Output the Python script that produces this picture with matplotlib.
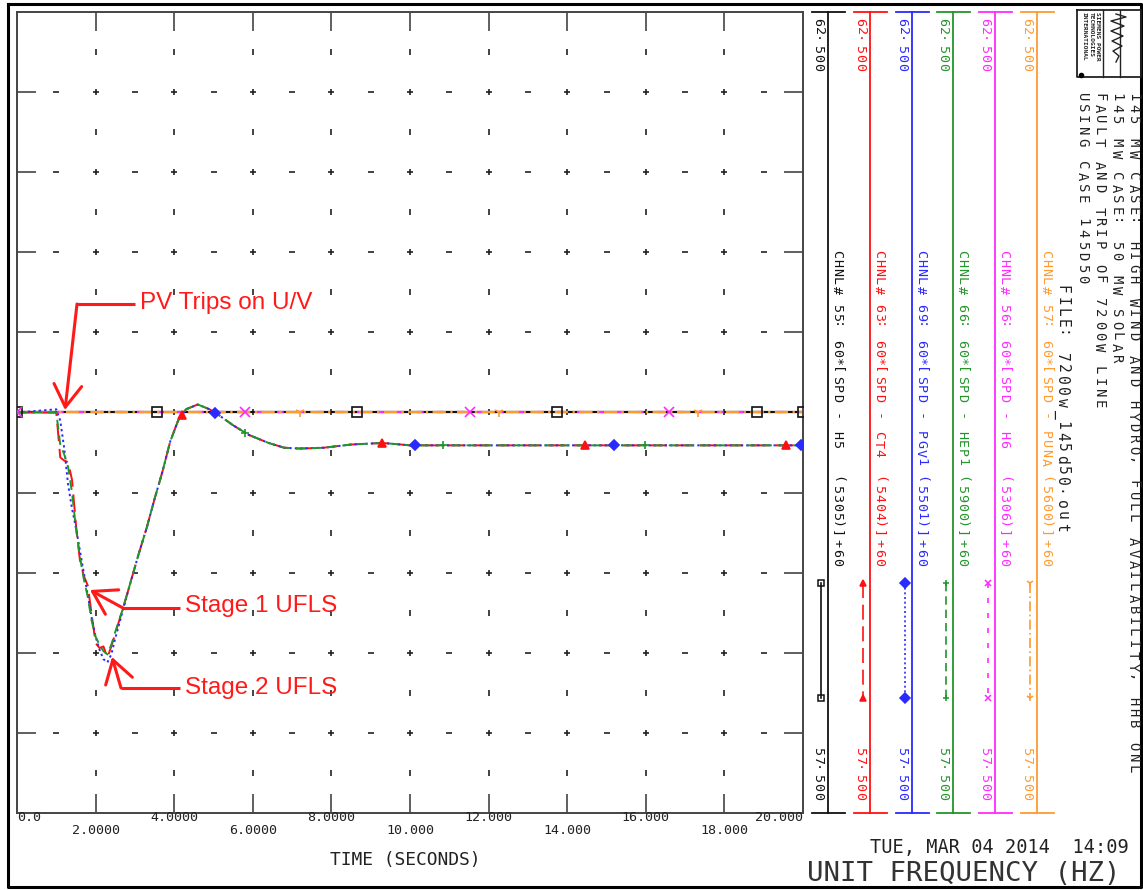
import numpy as np
import matplotlib
matplotlib.use('Agg')
import matplotlib.pyplot as plt

# time (s) and unit frequency (Hz)
time = [0.0, 1.0, 1.1, 1.2, 1.3, 1.4, 1.5, 1.6, 1.7, 1.8, 1.9, 2.0, 2.1, 2.2, 2.3,
        2.4, 2.5, 2.7, 2.9, 3.1, 3.3, 3.5, 3.7, 3.9, 4.1, 4.3, 4.6, 4.9, 5.1, 5.5,
        5.9, 6.4, 6.8, 7.2, 7.8, 8.5, 9.3, 10.0, 12.0, 14.0, 16.0, 18.0, 20.0]
f_ct4 = [60.0, 60.0, 59.72, 59.70, 59.69, 59.58, 59.30, 59.08, 58.98, 58.92, 58.74,
         58.56, 58.53, 58.54, 58.47, 58.54, 58.62, 58.78, 58.95, 59.12, 59.28, 59.46,
         59.63, 59.82, 59.95, 60.02, 60.05, 60.02, 59.99, 59.92, 59.86, 59.81, 59.78,
         59.775, 59.78, 59.80, 59.81, 59.795, 59.795, 59.795, 59.795, 59.795, 59.795]
f_pgv1 = [60.0, 60.02, 59.95, 59.78, 59.55, 59.40, 59.28, 59.14, 59.00, 58.86, 58.72,
          58.60, 58.52, 58.46, 58.44, 58.49, 58.59, 58.77, 58.95, 59.12, 59.28, 59.46,
          59.63, 59.82, 59.95, 60.02, 60.05, 60.02, 59.99, 59.92, 59.86, 59.81, 59.78,
          59.775, 59.78, 59.80, 59.81, 59.795, 59.795, 59.795, 59.795, 59.795, 59.795]
f_hep1 = [60.0, 60.0, 59.80, 59.74, 59.66, 59.50, 59.28, 59.10, 58.96, 58.85, 58.70,
          58.60, 58.55, 58.51, 58.49, 58.55, 58.63, 58.78, 58.95, 59.12, 59.28, 59.46,
          59.63, 59.82, 59.95, 60.02, 60.05, 60.02, 59.99, 59.92, 59.86, 59.81, 59.78,
          59.775, 59.78, 59.80, 59.81, 59.795, 59.795, 59.795, 59.795, 59.795, 59.795]
f_flat = [60.0, 60.0]
t_flat = [0.0, 20.0]

# marker times for each channel
mk_h5 = [0.0, 3.56, 8.65, 13.74, 18.83, 20.0]
mk_ct4 = [4.2, 9.3, 14.45, 19.57]
mk_pgv1 = [5.04, 10.13, 15.2, 19.95]
mk_hep1 = [5.8, 10.84, 15.98]
mk_h6 = [0.0, 5.8, 11.53, 16.58]
mk_puna = [7.2, 12.26, 17.33]

channels = ['CHNL# 55: 60*[SPD - H5   (5305)]+60',
            'CHNL# 63: 60*[SPD - CT4  (5404)]+60',
            'CHNL# 69: 60*[SPD - PGV1 (5501)]+60',
            'CHNL# 66: 60*[SPD - HEP1 (5900)]+60',
            'CHNL# 56: 60*[SPD - H6   (5306)]+60',
            'CHNL# 57: 60*[SPD - PUNA (5600)]+60']
ch_colors = ['#111111', '#ff1010', '#2a2aff', '#22952a', '#ff2aff', '#ff9a30']
ch_markers = ['s', '^', 'D', '+', 'x', '1']
ch_dashes = ['-', (0, (9, 4)), (0, (1.2, 1.6)), (0, (5, 3)), (0, (3, 6)), (0, (6, 2, 1, 2))]

x_ticks = [0, 2, 4, 6, 8, 10, 12, 14, 16, 18, 20]
x_labels = ['0.0', '2.0000', '4.0000', '6.0000', '8.0000', '10.000',
            '12.000', '14.000', '16.000', '18.000', '20.000']
y_grid = [58.0, 58.5, 59.0, 59.5, 60.0, 60.5, 61.0, 61.5, 62.0]

title_lines = ['145 MW CASE: HIGH WIND AND HYDRO, FULL AVAILABILITY, HHB ONL',
               '145 MW CASE: 50 MW SOLAR',
               'FAULT AND TRIP OF 7200W LINE',
               'USING CASE 145D50']

mono = 'DejaVu Sans Mono'
W, H = 1143, 890
fig = plt.figure(figsize=(W / 100, H / 100), dpi=100)
ax = fig.add_axes([17 / W, 1 - 813 / H, 786 / W, 801 / H])
ax.set_xlim(0, 20)
ax.set_ylim(57.5, 62.5)
for s in ax.spines.values():
    s.set_color('#444444')
    s.set_linewidth(1.4)
ax.set_xticks(x_ticks[1:-1])
ax.set_yticks(y_grid)
ax.tick_params(direction='in', length=14, width=1.2, color='#444444',
               top=True, right=True, labelbottom=False, labelleft=False)

# dotted grid: crosses at intersections, short dashes / bars in between
gx, gy = np.meshgrid(x_ticks[1:-1], y_grid)
ax.plot(gx.ravel(), gy.ravel(), '+', ms=4, mew=1.2, color='#222222', zorder=1)
hx, hy = np.meshgrid(np.arange(1, 20, 2), y_grid)
ax.plot(hx.ravel(), hy.ravel(), '_', ms=4, mew=1.2, color='#222222', zorder=1)
vx, vy = np.meshgrid(x_ticks[1:-1], np.arange(57.75, 62.5, 0.5))
ax.plot(vx.ravel(), vy.ravel(), '|', ms=4, mew=1.2, color='#222222', zorder=1)

# flat channels
flat = [(0, mk_h5), (4, mk_h6), (5, mk_puna)]
for i, mk in flat:
    ax.plot(t_flat, f_flat, color=ch_colors[i], linestyle=ch_dashes[i], lw=1.6, zorder=2)
    ax.plot(mk, np.interp(mk, t_flat, f_flat), ch_markers[i], color=ch_colors[i],
            ms=7, mew=1.2, mfc='none' if i == 0 else ch_colors[i], zorder=3)

# dipping channels
dips = [(1, f_ct4, mk_ct4), (2, f_pgv1, mk_pgv1), (3, f_hep1, mk_hep1)]
for i, f, mk in dips:
    ax.plot(time, f, color=ch_colors[i], linestyle=ch_dashes[i], lw=1.4, zorder=2)
    ax.plot(mk, np.interp(mk, time, f), ch_markers[i], color=ch_colors[i],
            ms=6 if i != 2 else 5, mew=1.2, zorder=3)

# x tick labels in two staggered rows
for k, (xv, lab) in enumerate(zip(x_ticks, x_labels)):
    ha = 'left' if k == 0 else ('right' if k == len(x_ticks) - 1 else 'center')
    ax.annotate(lab, (xv, 57.5), xytext=(0, -5 if k % 2 == 0 else -18),
                textcoords='offset pixels', ha=ha, va='center',
                fontsize=9.6, family=mono, color='#222222')

# overlay in pixel coordinates for frame, legend columns and notes
ov = fig.add_axes([0, 0, 1, 1])
ov.set_xlim(0, W)
ov.set_ylim(H, 0)
ov.axis('off')
ov.plot([8, 1141, 1141, 8, 8], [4, 4, 887, 887, 4], color='black', lw=2.2)


def vtext(x, ytop, s, size, adv, color='#222222'):
    # plotter style: wide character cells, read top to bottom
    for k, ch in enumerate(s):
        if ch != ' ':
            ov.text(x, ytop + adv * (k + 0.5), ch, rotation=-90, ha='center',
                    va='center', fontsize=size, family=mono, color=color)


col_x = [828, 870, 912, 953, 995, 1037]
for i, cx in enumerate(col_x):
    c = ch_colors[i]
    ov.plot([cx, cx], [12, 813], color=c, lw=1.3)
    ov.plot([cx - 16, cx + 17], [12, 12], color=c, lw=1.3)
    ov.plot([cx - 16, cx + 17], [813, 813], color=c, lw=1.3)
    vtext(cx - 10, 17, '62.500', 9.6, 9.1, c)
    vtext(cx - 10, 801 - 6 * 9.1, '57.500', 9.6, 9.1, c)
    vtext(cx + 8.5, 249, channels[i], 9.6, 9.06, c)
    sx = cx - 7.5
    ov.plot([sx, sx], [583, 698], color=c, linestyle=ch_dashes[i], lw=1.2)
    ov.plot([sx, sx], [583, 698], ch_markers[i], color=c, ms=5, mew=1.1,
            mfc='none' if i == 0 else c)

title_x = [1133, 1116, 1099, 1082]
for xv, line in zip(title_x, title_lines):
    vtext(xv, 91, line, 10, 11.4)
vtext(1062, 284, 'FILE: 7200w_145d50.out', 10.5, 11.3)

# logo box
ov.plot([1077, 1141, 1141, 1077, 1077], [10, 10, 77, 77, 10], color='#222222', lw=1.3)
ov.plot([1103, 1103], [10, 77], color='#222222', lw=1.0)
ov.plot([1120, 1120], [10, 77], color='#222222', lw=1.0)
for xv, s in zip([1098, 1091, 1084], ['SIEMENS POWER', 'TECHNOLOGIES', 'INTERNATIONAL']):
    ov.text(xv, 12, s, rotation=-90, ha='center', va='top', fontsize=4.4,
            family=mono, fontweight='bold', color='#222222')
sq_y = [14, 17, 21, 26, 31, 36, 41, 46, 51, 56, 62]
sq_x = [1116, 1126, 1111, 1124, 1111, 1123, 1112, 1122, 1113, 1119, 1116]
ov.plot(sq_x, sq_y, color='#222222', lw=1.0)
ov.plot([1081], [75], 'o', ms=3, color='black')

ov.text(405, 860, 'TIME (SECONDS)', ha='center', va='center', fontsize=12.9,
        family=mono, color='#222222')
ov.text(999, 848, 'TUE, MAR 04 2014  14:09', ha='center', va='center', fontsize=13.4,
        family=mono, color='#222222')
ov.text(964, 874, 'UNIT FREQUENCY (HZ)', ha='center', va='center', fontsize=19.7,
        family=mono, color='#333333')

# red call-outs
arrow = dict(arrowstyle='->,head_length=1.6,head_width=1.0', color='#ff1a1a',
             lw=2.2, shrinkA=0, shrinkB=0)
notes = [('PV Trips on U/V', (140, 303), (77, 304), (65, 410)),
         ('Stage 1 UFLS', (185, 606), (123, 608), (90, 590)),
         ('Stage 2 UFLS', (185, 688), (121, 688), (112, 657))]
for label, (tx, ty), (cx, cy), tip in notes:
    ov.text(tx, ty, label, ha='left', va='center', fontsize=17.5,
            family='Liberation Sans', color='#ff1a1a')
    ov.plot([tx - 5, cx], [cy, cy], color='#ff1a1a', lw=2.2, solid_capstyle='butt')
    ov.annotate('', xy=tip, xytext=(cx, cy), arrowprops=arrow)

fig.savefig('out.png', dpi=100)
